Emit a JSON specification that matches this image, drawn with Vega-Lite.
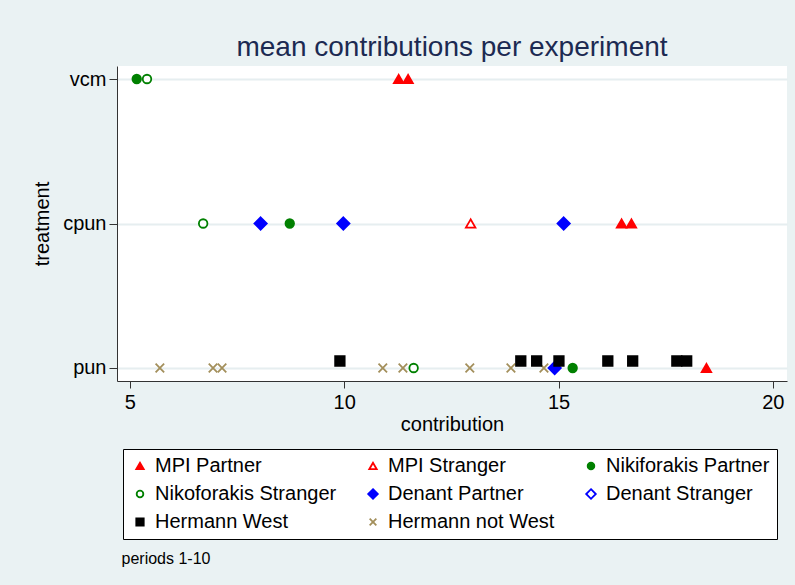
{
  "$schema": "https://vega.github.io/schema/vega-lite/v6.json",
  "width": 670,
  "height": 315,
  "autosize": "none",
  "padding": {"left": 117, "top": 66, "right": 8, "bottom": 204},
  "background": "#eaf2f3",
  "config": {
    "font": "Liberation Sans",
    "view": {"fill": "white", "stroke": null},
    "axis": {"domainColor": "#333333", "tickColor": "#333333", "labelColor": "black", "titleColor": "black", "labelFontSize": 20, "titleFontSize": 20, "titleFontWeight": "normal", "labelFont": "Liberation Sans", "titleFont": "Liberation Sans"},
    "legend": {"labelFont": "Liberation Sans", "labelFontSize": 20, "labelColor": "black"}
  },
  "title": {"text": "mean contributions per experiment", "fontSize": 28, "fontWeight": "normal", "color": "#1c2a52", "anchor": "middle", "offset": 4, "font": "Liberation Sans"},
  "data": {"values": [
    {"series": "MPI Partner", "treatment": "vcm", "contribution": 11.27},
    {"series": "MPI Partner", "treatment": "vcm", "contribution": 11.49},
    {"series": "MPI Partner", "treatment": "cpun", "contribution": 16.47},
    {"series": "MPI Partner", "treatment": "cpun", "contribution": 16.70},
    {"series": "MPI Partner", "treatment": "pun", "contribution": 18.45},
    {"series": "MPI Stranger", "treatment": "cpun", "contribution": 12.95},
    {"series": "Nikiforakis Partner", "treatment": "vcm", "contribution": 5.16},
    {"series": "Nikiforakis Partner", "treatment": "cpun", "contribution": 8.73},
    {"series": "Nikiforakis Partner", "treatment": "pun", "contribution": 15.33},
    {"series": "Nikoforakis Stranger", "treatment": "vcm", "contribution": 5.40},
    {"series": "Nikoforakis Stranger", "treatment": "cpun", "contribution": 6.71},
    {"series": "Nikoforakis Stranger", "treatment": "pun", "contribution": 11.62},
    {"series": "Denant Partner", "treatment": "cpun", "contribution": 8.05},
    {"series": "Denant Partner", "treatment": "cpun", "contribution": 9.98},
    {"series": "Denant Partner", "treatment": "cpun", "contribution": 15.12},
    {"series": "Denant Partner", "treatment": "pun", "contribution": 14.91},
    {"series": "Hermann West", "treatment": "pun", "contribution": 9.90},
    {"series": "Hermann West", "treatment": "pun", "contribution": 14.12},
    {"series": "Hermann West", "treatment": "pun", "contribution": 14.49},
    {"series": "Hermann West", "treatment": "pun", "contribution": 15.01},
    {"series": "Hermann West", "treatment": "pun", "contribution": 16.15},
    {"series": "Hermann West", "treatment": "pun", "contribution": 16.73},
    {"series": "Hermann West", "treatment": "pun", "contribution": 17.76},
    {"series": "Hermann West", "treatment": "pun", "contribution": 17.99},
    {"series": "Hermann not West", "treatment": "pun", "contribution": 5.70},
    {"series": "Hermann not West", "treatment": "pun", "contribution": 6.94},
    {"series": "Hermann not West", "treatment": "pun", "contribution": 7.15},
    {"series": "Hermann not West", "treatment": "pun", "contribution": 10.90},
    {"series": "Hermann not West", "treatment": "pun", "contribution": 11.37},
    {"series": "Hermann not West", "treatment": "pun", "contribution": 12.93},
    {"series": "Hermann not West", "treatment": "pun", "contribution": 13.89},
    {"series": "Hermann not West", "treatment": "pun", "contribution": 14.66}
  ]},
  "layer": [
    {
      "transform": [{"filter": "datum.series !== 'Hermann West'"}],
      "mark": {"type": "point", "size": 90, "strokeWidth": 1.8, "opacity": 1},
      "encoding": {
        "x": {"field": "contribution", "type": "quantitative", "scale": {"domain": [4.7, 20.33], "nice": false, "zero": false},
              "axis": {"orient": "bottom", "values": [5, 10, 15, 20], "grid": false, "tickSize": 7, "labelPadding": 4, "title": "contribution", "titlePadding": 2, "domainWidth": 1, "tickWidth": 1}},
        "y": {"field": "treatment", "type": "nominal", "scale": {"type": "point", "domain": ["vcm", "cpun", "pun"], "padding": 0.09},
              "axis": {"title": "treatment", "grid": true, "gridColor": "#e6eef0", "gridWidth": 2, "tickSize": 8, "labelPadding": 3, "titlePadding": 10, "labelAngle": 0}},
        "shape": {"field": "series", "type": "nominal",
                  "scale": {"domain": ["MPI Partner", "MPI Stranger", "Nikiforakis Partner", "Nikoforakis Stranger", "Denant Partner", "Denant Stranger", "Hermann West", "Hermann not West"],
                            "range": ["triangle-up", "triangle-up", "M-0.9,0A0.9,0.9 0 1,0 0.9,0A0.9,0.9 0 1,0 -0.9,0Z", "M-0.9,0A0.9,0.9 0 1,0 0.9,0A0.9,0.9 0 1,0 -0.9,0Z", "M0,-1.3L1.3,0L0,1.3L-1.3,0Z", "M0,-1.3L1.3,0L0,1.3L-1.3,0Z", "square", "M-0.9,-0.9L0.9,0.9M-0.9,0.9L0.9,-0.9"]},
                  "legend": {"title": null, "orient": "none", "legendX": 6, "legendY": 383, "direction": "horizontal", "columns": 3, "fillColor": "white", "strokeColor": "black", "padding": 7, "columnPadding": 26, "rowPadding": 8, "symbolSize": 55, "labelOffset": 5, "symbolStrokeWidth": 1.8, "labelLimit": 300}},
        "stroke": {"field": "series", "type": "nominal",
                   "scale": {"domain": ["MPI Partner", "MPI Stranger", "Nikiforakis Partner", "Nikoforakis Stranger", "Denant Partner", "Denant Stranger", "Hermann West", "Hermann not West"],
                             "range": ["#ff0000", "#ff0000", "#008000", "#008000", "#0000ff", "#0000ff", "#000000", "#a38f5b"]},
                   "legend": {"title": null}},
        "fill": {"field": "series", "type": "nominal",
                 "scale": {"domain": ["MPI Partner", "MPI Stranger", "Nikiforakis Partner", "Nikoforakis Stranger", "Denant Partner", "Denant Stranger", "Hermann West", "Hermann not West"],
                           "range": ["#ff0000", "white", "#008000", "white", "#0000ff", "white", "#000000", "transparent"]},
                 "legend": {"title": null}}
      }
    },
    {
      "transform": [{"filter": "datum.series === 'Hermann West'"}],
      "mark": {"type": "point", "size": 90, "strokeWidth": 1.8, "opacity": 1, "yOffset": -7},
      "encoding": {
        "x": {"field": "contribution", "type": "quantitative",
              "axis": {"orient": "bottom", "title": "periods 1-10", "labels": false, "ticks": false, "domain": false, "grid": false, "titleX": 4, "titleY": 177, "titleAlign": "left", "titleBaseline": "middle", "titleFontSize": 16, "titleAngle": 0}},
        "y": {"field": "treatment", "type": "nominal"},
        "shape": {"field": "series", "type": "nominal"},
        "stroke": {"field": "series", "type": "nominal"},
        "fill": {"field": "series", "type": "nominal"}
      }
    }
  ],
  "resolve": {"axis": {"x": "independent"}}
}
